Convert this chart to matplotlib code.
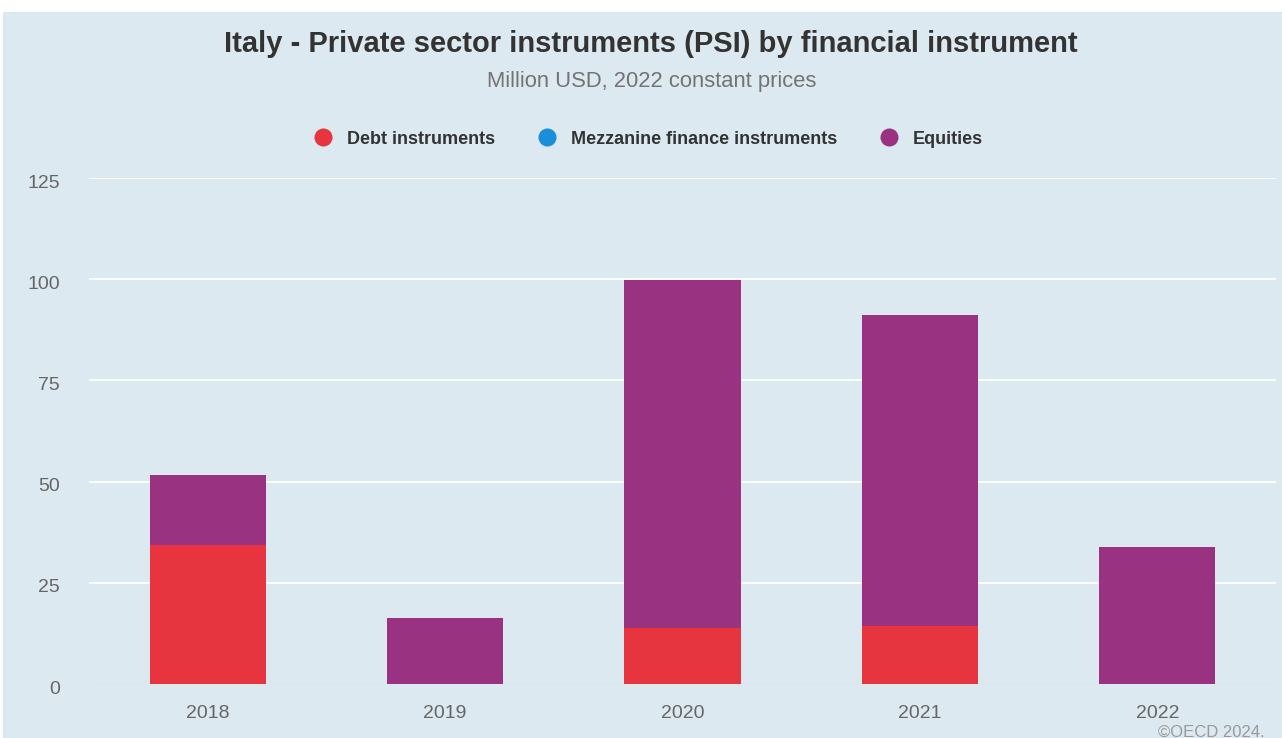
import numpy as np
import matplotlib
matplotlib.use("Agg")
import matplotlib.pyplot as plt
import matplotlib.transforms as mtransforms
from matplotlib.patches import Rectangle
from matplotlib.lines import Line2D

plt.rcParams["font.family"] = ["Liberation Sans", "DejaVu Sans"]

YEARS = ["2018", "2019", "2020", "2021", "2022"]
DEBT = [34.3, 0.0, 13.8, 14.3, 0.0]
MEZZANINE = [0.0, 0.0, 0.0, 0.0, 0.0]
EQUITIES = [17.3, 16.3, 86.0, 76.9, 33.8]
SERIES = ["Debt instruments", "Mezzanine finance instruments", "Equities"]
COLORS = ["#e6353f", "#1a8fd9", "#993381"]
Y_TICKS = [0, 25, 50, 75, 100, 125]

BG = "#dde9f1"

fig = plt.figure(figsize=(12.82, 7.38), dpi=100)
fig.patch.set_facecolor(BG)
# white margin along the top and left edges
fig.patches.append(Rectangle((0, 1 - 12 / 738), 1, 12 / 738, transform=fig.transFigure,
                             facecolor="white", edgecolor="none", zorder=-5))
fig.patches.append(Rectangle((0, 0), 3 / 1282, 1, transform=fig.transFigure,
                             facecolor="white", edgecolor="none", zorder=-5))

ax = fig.add_axes([89 / 1282, 54 / 738, 1187 / 1282, 506 / 738])
ax.set_facecolor("none")

x = np.arange(len(YEARS))
bottom = np.zeros(len(YEARS))
for vals, col in zip([DEBT, MEZZANINE, EQUITIES], COLORS):
    ax.bar(x, vals, width=0.49, bottom=bottom, color=col, edgecolor="none", zorder=3)
    bottom += np.array(vals)

ax.set_xlim(-0.5, len(YEARS) - 0.5)
ax.set_ylim(0, 125)
ax.set_yticks(Y_TICKS)
ax.set_xticks(x)
ax.set_xticklabels(YEARS)
for t in Y_TICKS[1:]:
    ax.axhline(t, color="white", lw=1.3, zorder=1)
ax.axhline(0, color="#ccd6eb", lw=1.0, zorder=2)

for s in ax.spines.values():
    s.set_visible(False)
ax.tick_params(axis="both", length=0, labelsize=14, labelcolor="#666666")
ax.tick_params(axis="y", pad=21)
ax.tick_params(axis="x", pad=15)

# y labels sit a little below their gridlines
shift = mtransforms.ScaledTranslation(0, -3 / 100, fig.dpi_scale_trans)
for lbl in ax.get_yticklabels():
    lbl.set_transform(lbl.get_transform() + shift)

fig.text(0.508, 1 - 44 / 738, "Italy - Private sector instruments (PSI) by financial instrument",
         ha="center", va="center", fontsize=21, fontweight="bold", color="#333333")
fig.text(0.508, 1 - 81 / 738, "Million USD, 2022 constant prices",
         ha="center", va="center", fontsize=15.8, color="#737373")

handles = [Line2D([], [], marker="o", ls="none", markersize=13, markerfacecolor=c,
                  markeredgecolor="none") for c in COLORS]
fig.legend(handles, SERIES, loc="center", bbox_to_anchor=(0.506, 1 - 139 / 738),
           ncol=3, frameon=False, handletextpad=0.8, columnspacing=2.4,
           prop={"weight": "bold", "size": 13}, labelcolor="#333333", handlelength=1.0)

fig.text(1265 / 1282, 1 - 732 / 738, "\u00a9OECD 2024.", ha="right", va="center",
         fontsize=12, color="#999999")

fig.savefig("out.png", dpi=100, facecolor=fig.get_facecolor())
